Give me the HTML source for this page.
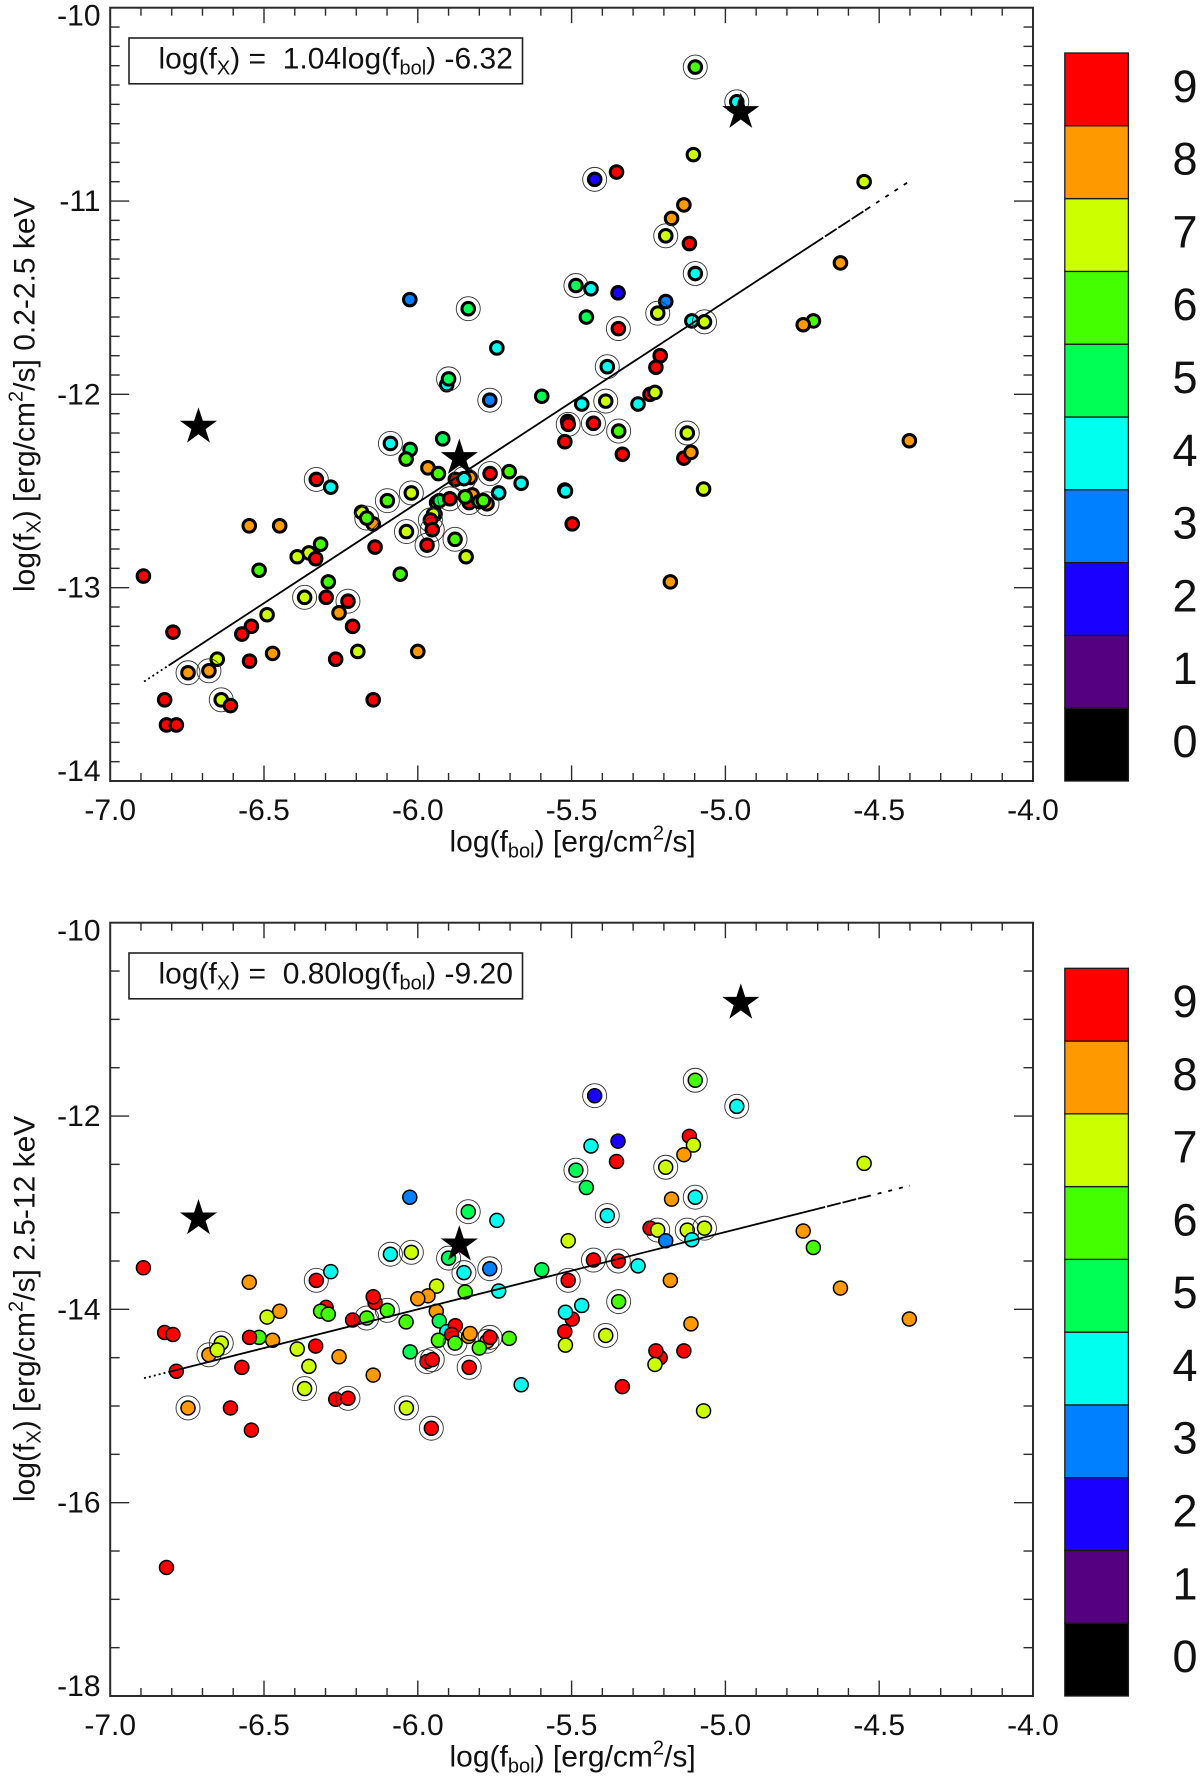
<!DOCTYPE html>
<html lang="en">
<head>
<meta charset="utf-8">
<title>X-ray flux versus bolometric flux</title>
<style>
html,body{margin:0;padding:0;background:#fff;}
svg{display:block;}
text{font-family:"Liberation Sans",sans-serif;fill:#111;}
</style>
</head>
<body>
<svg id="figure" xmlns="http://www.w3.org/2000/svg" width="1200" height="1778" viewBox="0 0 1200 1778">
  <rect x="0" y="0" width="1200" height="1778" fill="#fff"/>

  <g id="panelTop"></g>
  <g id="panelBottom"></g>

  <g>
    <rect x="129" y="38" width="393.5" height="45.8" fill="#fff" stroke="#222" stroke-width="1.6"/>
    <text x="158.5" y="68.3" font-size="30" xml:space="preserve">log(f<tspan font-size="20" dy="6">X</tspan><tspan dy="-6">) =  1.04log(f</tspan><tspan font-size="20" dy="6">bol</tspan><tspan dy="-6">) -6.32</tspan></text>
    <text x="449.5" y="851.7" font-size="30">log(f<tspan font-size="20" dy="6">bol</tspan><tspan dy="-6">) [erg/cm</tspan><tspan font-size="20" dy="-12">2</tspan><tspan dy="12">/s]</tspan></text>
    <text transform="translate(34.5,592) rotate(-90)" x="0" y="0" font-size="30">log(f<tspan font-size="20" dy="6">X</tspan><tspan dy="-6">) [erg/cm</tspan><tspan font-size="20" dy="-12">2</tspan><tspan dy="12">/s] 0.2-2.5 keV</tspan></text>
  </g>

  <g>
    <rect x="129" y="953" width="393.5" height="45.8" fill="#fff" stroke="#222" stroke-width="1.6"/>
    <text x="158.5" y="983.3" font-size="30" xml:space="preserve">log(f<tspan font-size="20" dy="6">X</tspan><tspan dy="-6">) =  0.80log(f</tspan><tspan font-size="20" dy="6">bol</tspan><tspan dy="-6">) -9.20</tspan></text>
    <text x="449.5" y="1766.7" font-size="30">log(f<tspan font-size="20" dy="6">bol</tspan><tspan dy="-6">) [erg/cm</tspan><tspan font-size="20" dy="-12">2</tspan><tspan dy="12">/s]</tspan></text>
    <text transform="translate(34.5,1502) rotate(-90)" x="0" y="0" font-size="30">log(f<tspan font-size="20" dy="6">X</tspan><tspan dy="-6">) [erg/cm</tspan><tspan font-size="20" dy="-12">2</tspan><tspan dy="12">/s] 2.5-12 keV</tspan></text>
  </g>
</svg>

<script>
// ---- Chart data ----
const xTickLabels = ["-7.0","-6.5","-6.0","-5.5","-5.0","-4.5","-4.0"];
const topYTickLabels = ["-10","-11","-12","-13","-14"];
const bottomYTickLabels = ["-10","-12","-14","-16","-18"];
const colorLevels = [0,1,2,3,4,5,6,7,8,9];

const topX = [
-5.425,-5.486,-5.437,-5.452,-6.026,-5.836,-5.743,-5.906,-5.90,-5.766,
-5.597,-5.467,-5.513,-5.511,-5.429,-5.522,-5.384,-5.389,-6.089,-6.025,
-5.919,-5.098,-4.963,-5.104,-5.354,-4.549,-5.135,-5.175,-5.194,-5.117,
-5.098,-4.626,-5.349,-5.194,-5.22,-5.109,-5.068,-5.348,-4.714,-4.747,
-5.212,-5.226,-5.245,-5.229,-5.284,-5.347,-5.124,-4.402,-5.335,-5.135,
-5.112,-5.071,-5.179,-5.522,-5.52,-5.498,-6.038,-5.967,-5.933,-6.33,
-6.283,-5.878,-5.83,-5.85,-5.765,-5.703,-5.664,-5.737,-6.099,-6.021,
-5.939,-5.93,-5.896,-5.833,-5.823,-5.846,-5.775,-5.80,-5.787,-5.944,
-5.949,-5.959,-5.953,-5.97,-6.037,-5.879,-5.843,-6.057,-6.145,-6.183,
-6.166,-6.139,-6.548,-6.449,-6.316,-6.354,-6.392,-6.332,-6.516,-6.892,
-6.291,-6.368,-6.298,-6.227,-6.256,-6.49,-6.212,-6.541,-6.572,-6.796,
-6.195,-6.0,-6.267,-6.472,-6.547,-6.652,-6.679,-6.747,-6.823,-6.639,
-6.609,-6.145,-6.817,-6.785
];
const topY = [
-10.888,-11.437,-11.454,-11.60,-11.51,-11.557,-11.76,-11.95,-11.92,-12.03,
-12.01,-12.05,-12.14,-12.155,-12.15,-12.245,-11.857,-12.035,-12.254,-12.285,
-12.23,-10.307,-10.487,-10.76,-10.85,-10.90,-11.02,-11.09,-11.18,-11.22,
-11.375,-11.32,-11.475,-11.52,-11.58,-11.62,-11.625,-11.66,-11.62,-11.64,
-11.80,-11.86,-12.00,-11.99,-12.05,-12.19,-12.20,-12.24,-12.31,-12.33,
-12.30,-12.49,-12.97,-12.495,-12.50,-12.67,-12.335,-12.38,-12.41,-12.44,
-12.48,-12.44,-12.43,-12.436,-12.41,-12.40,-12.46,-12.51,-12.55,-12.51,
-12.56,-12.55,-12.54,-12.56,-12.52,-12.53,-12.566,-12.555,-12.55,-12.62,
-12.62,-12.65,-12.70,-12.78,-12.71,-12.75,-12.84,-12.93,-12.67,-12.61,
-12.64,-12.79,-12.68,-12.68,-12.775,-12.82,-12.84,-12.85,-12.91,-12.94,
-12.97,-13.05,-13.05,-13.07,-13.13,-13.14,-13.20,-13.20,-13.24,-13.23,
-13.33,-13.33,-13.37,-13.34,-13.38,-13.37,-13.43,-13.44,-13.58,-13.58,
-13.61,-13.58,-13.71,-13.71
];
const topClass = [
2,5,4,5,3,5,4,4,5,3,
5,4,7,9,9,9,4,7,4,5,
5,6,4,7,9,7,8,8,7,9,
4,8,2,3,7,4,7,9,6,8,
9,9,9,7,4,6,7,8,9,9,
8,7,8,7,4,9,6,8,6,9,
4,9,8,4,9,6,4,4,6,7,
7,5,9,9,8,6,8,6,6,8,
7,9,9,9,7,6,7,6,8,7,
6,9,8,8,6,7,7,9,6,9,
6,7,9,9,8,7,9,9,9,9,
7,8,9,8,9,7,8,8,9,7,
9,9,9,9
];
const topRinged = [
1,1,0,0,0,1,0,0,1,1,
0,0,0,1,1,0,1,1,1,0,
0,1,1,0,0,0,0,0,1,0,
1,0,0,0,1,0,1,1,0,0,
0,0,0,0,0,1,1,0,0,0,
0,0,0,0,0,0,0,0,0,1,
0,0,0,1,1,0,0,0,1,1,
0,0,1,1,0,0,1,0,0,0,
0,1,1,1,1,1,0,0,0,0,
1,0,0,0,0,0,0,0,0,0,
0,1,0,1,0,0,0,0,0,0,
0,0,0,0,0,0,1,1,0,1,
0,0,0,0
];

const bottomX = [
-5.425,-5.437,-5.486,-5.452,-6.026,-5.836,-5.743,-5.90,-6.089,-6.021,
-5.85,-5.766,-5.597,-5.511,-5.429,-5.511,-5.467,-5.498,-5.52,-5.522,
-5.52,-5.737,-5.846,-5.939,-5.967,-6.0,-5.94,-5.93,-5.906,-5.878,
-5.89,-5.933,-5.879,-5.835,-5.83,-5.775,-5.765,-5.703,-5.80,-6.025,
-6.038,-6.099,-6.212,-6.166,-6.139,-6.145,-6.33,-6.283,-6.548,-6.892,
-6.823,-6.796,-6.449,-6.49,-6.298,-6.316,-6.291,-6.516,-6.547,-6.472,
-6.639,-6.392,-6.332,-6.679,-6.652,-6.256,-6.145,-6.354,-6.368,-6.572,
-6.785,-6.747,-6.609,-6.541,-6.267,-6.227,-6.037,-5.956,-5.97,-5.953,
-5.833,-5.664,-6.817,-5.098,-4.963,-5.117,-5.104,-5.135,-5.349,-5.354,
-4.549,-5.194,-5.175,-5.098,-5.384,-5.245,-5.22,-5.124,-5.068,-5.194,
-5.109,-4.747,-4.714,-5.348,-5.284,-5.179,-4.626,-5.347,-4.402,-5.112,
-5.389,-5.212,-5.226,-5.135,-5.229,-5.335,-5.071
];
const bottomY = [
-11.79,-12.31,-12.56,-12.74,-12.84,-12.99,-13.08,-13.47,-13.43,-13.41,
-13.62,-13.58,-13.59,-13.29,-13.49,-13.70,-13.96,-14.10,-14.03,-14.23,
-14.37,-13.81,-13.82,-13.76,-13.86,-13.89,-14.02,-14.12,-14.23,-14.17,
-14.26,-14.32,-14.35,-14.28,-14.25,-14.33,-14.29,-14.30,-14.40,-14.44,
-14.13,-14.01,-14.11,-14.09,-13.93,-13.87,-13.70,-13.61,-13.72,-13.57,
-14.24,-14.26,-14.02,-14.08,-13.98,-14.02,-14.05,-14.29,-14.29,-14.32,
-14.35,-14.41,-14.38,-14.47,-14.42,-14.49,-14.68,-14.59,-14.82,-14.60,
-14.64,-15.02,-15.02,-15.25,-14.93,-14.92,-15.02,-15.23,-14.54,-14.52,
-14.60,-14.78,-16.67,-11.63,-11.90,-12.21,-12.30,-12.40,-12.26,-12.47,
-12.49,-12.53,-12.86,-12.84,-13.03,-13.16,-13.18,-13.18,-13.16,-13.29,
-13.28,-13.19,-13.36,-13.50,-13.55,-13.70,-13.78,-13.92,-14.10,-14.15,
-14.27,-14.50,-14.43,-14.43,-14.57,-14.80,-15.05
];
const bottomClass = [
2,4,5,5,3,5,4,5,4,7,
4,3,5,7,9,9,4,9,4,9,
7,4,6,7,8,8,8,5,4,9,
9,6,6,8,8,8,9,6,6,5,
6,6,9,6,9,9,9,4,8,9,
9,9,8,7,9,6,6,6,9,8,
7,7,9,8,7,8,8,7,7,9,
9,8,9,9,9,9,7,9,9,9,
9,4,9,6,4,9,7,8,2,9,
7,7,8,4,4,9,7,7,7,3,
4,8,6,9,4,8,8,6,8,8,
7,9,9,9,7,9,7
];
const bottomRinged = [
1,0,1,0,0,1,0,1,1,1,
1,1,0,0,1,1,0,0,0,0,
0,0,0,0,0,0,0,0,0,0,
0,0,1,0,0,1,1,0,0,0,
0,1,0,1,0,0,1,0,0,0,
0,0,0,0,0,0,0,0,0,0,
1,0,0,1,0,0,0,0,1,0,
0,1,0,0,0,1,1,1,1,1,
1,0,0,1,1,0,0,0,0,0,
0,1,0,1,1,0,1,1,1,0,
0,0,0,1,0,0,0,1,0,0,
1,0,0,0,0,0,0
];

const starX = [-6.713,-5.865,-4.95];
const topStarY = [-12.168,-12.33,-10.54];
const bottomStarY = [-13.06,-13.33,-10.83];

const topFitSlope = 1.04;
const topFitIntercept = -6.32;
const bottomFitSlope = 0.80;
const bottomFitIntercept = -9.20;
const fitRangeDotted = [-6.89,-6.81];
const fitRangeSolid = [-6.81,-4.72];
const fitRangeDashedOne = [-4.72,-4.54];
const fitRangeDashedTwo = [-4.54,-4.40];

// ---- Drawing ----
const SVGNS = "http://www.w3.org/2000/svg";
const PALETTE = ["#000000","#550080","#1a00ff","#0080ff","#00ffee","#00ff55","#44ff00","#ccff00","#ff9900","#ff0000"];
const AXIS_COLOR = "#2b2b2b";
const PLOT_LEFT = 110.2, PLOT_RIGHT = 1033;
const X_MIN = -7, X_MAX = -4;

function el(parent, tag, attrs, text) {
  const node = document.createElementNS(SVGNS, tag);
  for (const key in attrs) node.setAttribute(key, attrs[key]);
  if (text !== undefined) node.textContent = text;
  parent.appendChild(node);
  return node;
}
function xScale(v) {
  return PLOT_LEFT + (v - X_MIN) / (X_MAX - X_MIN) * (PLOT_RIGHT - PLOT_LEFT);
}
function makeYScale(yMax, yMin, top, bottom) {
  return function (v) { return top + (yMax - v) / (yMax - yMin) * (bottom - top); };
}
function starPoints(cx, cy, R) {
  const r = R * 0.382;
  const pts = [];
  for (let i = 0; i < 10; i++) {
    const a = -Math.PI / 2 + i * Math.PI / 5;
    const rad = i % 2 === 0 ? R : r;
    pts.push((cx + rad * Math.cos(a)).toFixed(2) + "," + (cy + rad * Math.sin(a)).toFixed(2));
  }
  return pts.join(" ");
}

function drawPanel(cfg) {
  const g = cfg.group;
  const y = makeYScale(cfg.yMax, cfg.yMin, cfg.top, cfg.bottom);

  // points
  const pts = el(g, "g", {});
  
  
  cfg.xs.forEach(function (xv, i) {
    const cx = xScale(xv), cy = y(cfg.ys[i]);
    const dot = el(pts, "circle", {
      cx: cx.toFixed(2), cy: cy.toFixed(2), r: cfg.markerR,
      fill: PALETTE[cfg.classes[i]], stroke: "#000", "stroke-width": cfg.markerStroke
    });
    
    
    if (cfg.ringed[i]) {
      const ring = el(pts, "circle", {
        cx: cx.toFixed(2), cy: cy.toFixed(2), r: 12, fill: "none", stroke: "#333", "stroke-width": 0.9
      });
      
      
    }
  });

  // fit line
  const fit = function (v) { return y(cfg.slope * v + cfg.intercept); };
  [[fitRangeDotted, "2 3"], [fitRangeSolid, ""], [fitRangeDashedOne, cfg.dashA], [fitRangeDashedTwo, "4 7"]].forEach(function (seg) {
    const r = seg[0];
    const line = el(g, "line", {
      x1: xScale(r[0]).toFixed(2), y1: fit(r[0]).toFixed(2),
      x2: xScale(r[1]).toFixed(2), y2: fit(r[1]).toFixed(2),
      stroke: "#000", "stroke-width": 1.8
    });
    
    
    if (seg[1]) line.setAttribute("stroke-dasharray", seg[1]);
  });

  // stars
  starX.forEach(function (xv, i) {
    const star = el(g, "polygon", { points: starPoints(xScale(xv), y(cfg.starY[i]), 19.5), fill: "#000" });
    
    
  });

  // frame
  const frame = el(g, "rect", {
    x: PLOT_LEFT, y: cfg.top, width: PLOT_RIGHT - PLOT_LEFT, height: cfg.bottom - cfg.top,
    fill: "none", stroke: AXIS_COLOR, "stroke-width": 2
  });
  
  

  // x ticks
  const xAxis = el(g, "g", {});
  
  
  for (let k = 1; k < 30; k++) {
    const v = X_MIN + k * 0.1, px = xScale(v).toFixed(2);
    const len = k % 5 === 0 ? 15.5 : 8;
    el(xAxis, "line", { x1: px, y1: cfg.bottom, x2: px, y2: cfg.bottom - len, stroke: AXIS_COLOR, "stroke-width": 1.4 });
    el(xAxis, "line", { x1: px, y1: cfg.top, x2: px, y2: cfg.top + len, stroke: AXIS_COLOR, "stroke-width": 1.4 });
  }
  xTickLabels.forEach(function (label) {
    const t = el(xAxis, "text", {
      x: xScale(parseFloat(label)).toFixed(2), y: cfg.bottom + 39, "font-size": 30, "text-anchor": "middle"
    }, label);
    
    
  });

  // y ticks
  const yAxis = el(g, "g", {});
  
  
  const steps = Math.round((cfg.yMax - cfg.yMin) / cfg.minorStep);
  const majorEvery = Math.round(cfg.majorStep / cfg.minorStep);
  for (let k = 1; k < steps; k++) {
    const py = y(cfg.yMax - k * cfg.minorStep).toFixed(2);
    const len = k % majorEvery === 0 ? 19 : 9.5;
    el(yAxis, "line", { x1: PLOT_LEFT, y1: py, x2: PLOT_LEFT + len, y2: py, stroke: AXIS_COLOR, "stroke-width": 1.4 });
    el(yAxis, "line", { x1: PLOT_RIGHT, y1: py, x2: PLOT_RIGHT - len, y2: py, stroke: AXIS_COLOR, "stroke-width": 1.4 });
  }
  cfg.yLabels.forEach(function (label, i) {
    let off = 10;
    if (i === 0) off = 18;
    if (i === cfg.yLabels.length - 1) off = 0;
    const t = el(yAxis, "text", {
      x: 100.5, y: (y(parseFloat(label)) + off).toFixed(2), "font-size": 30, "text-anchor": "end"
    }, label);
    
    
  });

  // colour bar
  const bar = el(g, "g", {});
  
  
  const segH = (cfg.bottom - cfg.barTop) / colorLevels.length;
  colorLevels.forEach(function (level, i) {
    const sy = cfg.barTop + (colorLevels.length - 1 - i) * segH;
    const seg = el(bar, "rect", {
      x: 1064.8, y: sy.toFixed(2), width: 63.6, height: segH.toFixed(2),
      fill: PALETTE[i], stroke: "#1a1a1a", "stroke-width": 1.3
    });
    
    
    const t = el(bar, "text", {
      x: 1185, y: (sy + 48.8).toFixed(2), "font-size": 45, "text-anchor": "middle"
    }, String(level));
    
    
  });
}

drawPanel({
  group: document.getElementById("panelTop"),
  xs: topX, ys: topY, classes: topClass, ringed: topRinged, starY: topStarY,
  slope: topFitSlope, intercept: topFitIntercept,
  yMax: -10, yMin: -14, top: 7.7, bottom: 781,
  minorStep: 0.1, majorStep: 1, yLabels: topYTickLabels,
  markerR: 6.3, markerStroke: 3, barTop: 53, dashA: "14 2"
});
drawPanel({
  group: document.getElementById("panelBottom"),
  xs: bottomX, ys: bottomY, classes: bottomClass, ringed: bottomRinged, starY: bottomStarY,
  slope: bottomFitSlope, intercept: bottomFitIntercept,
  yMax: -10, yMin: -18, top: 922.7, bottom: 1696,
  minorStep: 0.5, majorStep: 2, yLabels: bottomYTickLabels,
  markerR: 7, markerStroke: 1.5, barTop: 968.3, dashA: "14 2"
});
</script>
</body>
</html>
